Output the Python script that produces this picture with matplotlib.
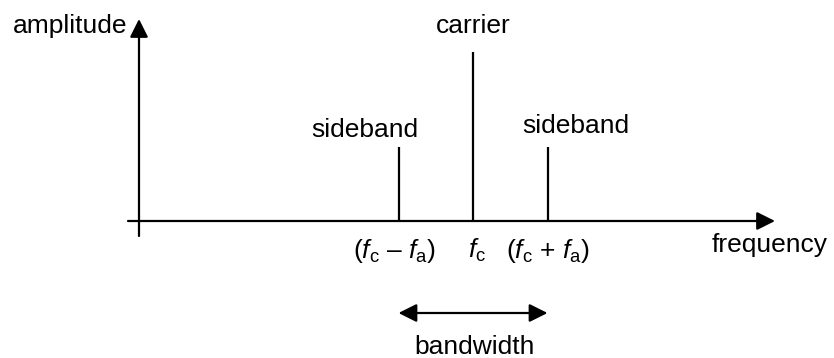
import matplotlib
matplotlib.use("Agg")
import matplotlib.pyplot as plt

plt.rcParams['font.family'] = ['Liberation Sans', 'DejaVu Sans']
plt.rcParams['mathtext.fontset'] = 'custom'
plt.rcParams['mathtext.rm'] = 'Liberation Sans'
plt.rcParams['mathtext.it'] = 'Liberation Sans:italic'

# Data (frequency offset from carrier in units of f_a, relative amplitude)
frequencies = [-1.0, 0.0, 1.0]
amplitudes = [0.44, 1.0, 0.44]
peak_labels = ["sideband", "carrier", "sideband"]
tick_labels = [r"($f_{\mathrm{c}}$ – $f_{\mathrm{a}}$)", r"$f_{\mathrm{c}}$", r"($f_{\mathrm{c}}$ + $f_{\mathrm{a}}$)"]

W, H = 834, 358
fig = plt.figure(figsize=(W / 100, H / 100), dpi=100)
ax = fig.add_axes([0, 0, 1, 1])
ax.set_axis_off()

# pixel calibration: x_pix = x0 + sx * f ; y_pix = y0 - sy * a
x0, sx = 473.0, 74.5
y0, sy = 221.0, 169.0
ax.set_xlim((0 - x0) / sx, (W - x0) / sx)
ax.set_ylim((y0 - H) / sy, (y0 - 0) / sy)

def fx(p):
    return (p - x0) / sx

def fy(p):
    return (y0 - p) / sy

fs = 19
lw = 1.6
head = "head_length=1.1,head_width=0.55"

# axes arrows
ax.annotate("", xy=(fx(775), 0), xytext=(fx(128), 0),
            arrowprops=dict(arrowstyle="-|>," + head, color="black", lw=lw,
                            shrinkA=0, shrinkB=0))
ax.annotate("", xy=(fx(139), fy(19)), xytext=(fx(139), fy(236)),
            arrowprops=dict(arrowstyle="-|>," + head, color="black", lw=lw,
                            shrinkA=0, shrinkB=0))

# spectral lines
ax.vlines(frequencies, 0, amplitudes, colors="black", lw=lw)

# labels above lines
label_dx = [-0.45, 0.0, 0.38]
label_gap = [0.057, 0.112, 0.08]
for f, a, lab, dx, g in zip(frequencies, amplitudes, peak_labels, label_dx, label_gap):
    ax.text(f + dx, a + g, lab, ha="center", va="baseline", fontsize=fs)

# tick labels under axis
tick_dx = [-0.05, 0.05, 0.0]
for f, lab, dx in zip(frequencies, tick_labels, tick_dx):
    ax.text(f + dx, fy(258), lab, ha="center", va="baseline", fontsize=fs)

ax.text(fx(13), fy(33), "amplitude", ha="left", va="baseline", fontsize=fs)
ax.text(fx(828), fy(252), "frequency", ha="right", va="baseline", fontsize=fs)

# bandwidth arrow
ax.annotate("", xy=(frequencies[0], fy(313)), xytext=(frequencies[2], fy(313)),
            arrowprops=dict(arrowstyle="<|-|>," + head, color="black", lw=lw,
                            shrinkA=0, shrinkB=0))
ax.text((frequencies[0] + frequencies[2]) / 2 + 0.02, fy(354), "bandwidth", ha="center", va="baseline", fontsize=fs)

fig.savefig("out.png", dpi=100, facecolor="white")
